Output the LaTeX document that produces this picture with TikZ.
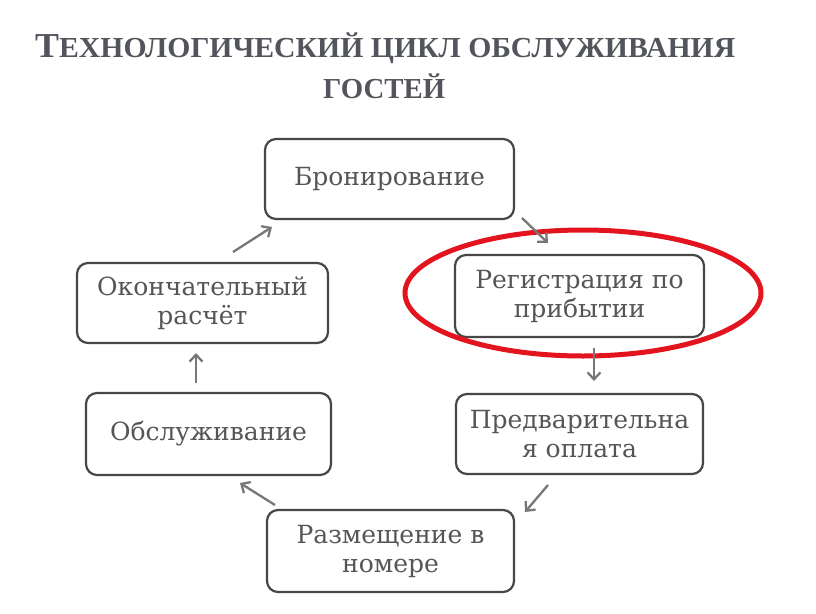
\documentclass[tikz,border=0pt]{standalone}
\usepackage{fontspec}
\usepackage{graphicx}
\setmainfont{DejaVu Serif}
\newfontfamily\titlefont{Liberation Serif}
\usetikzlibrary{arrows.meta}
\definecolor{txtgray}{HTML}{555555}
\definecolor{boxgray}{HTML}{474747}
\definecolor{arrgray}{HTML}{777777}
\definecolor{titlegray}{HTML}{52555C}
\definecolor{markred}{HTML}{E3141E}
\tikzset{
  stepbox/.style={draw=boxgray, line width=2.2pt, rounded corners=11pt,
    text=txtgray, align=center, inner sep=0pt,
    font=\fontsize{25}{29}\selectfont},
  arr/.style={draw=arrgray, line width=2.3pt, -{Straight Barb[length=7pt,width=13pt]}},
  titletxt/.style={text=titlegray, inner sep=0pt, anchor=base west, font=\titlefont\bfseries}
}
\newcommand\bigT[1]{{\fontsize{35}{35}\selectfont #1}}
\newcommand\smT[1]{{\fontsize{29}{29}\selectfont #1}}
\begin{document}
\begin{tikzpicture}[x=1pt,y=-1pt]
\useasboundingbox (0,0) rectangle (816,613);
\fill[white] (0,0) rectangle (816,613);
% title
\node[titletxt] (t1) at (35,57) {\resizebox{700pt}{\height}{\bigT{Т}\smT{ЕХНОЛОГИЧЕСКИЙ ЦИКЛ ОБСЛУЖИВАНИЯ}}};
\node[titletxt] (t2) at (323,98) {\resizebox{122pt}{\height}{\smT{ГОСТЕЙ}}};
% boxes
\node[stepbox, minimum width=249pt, minimum height=80pt] (bron) at (389.5,179) {Бронирование};
\node[stepbox, minimum width=249pt, minimum height=82pt] (reg) at (579.5,296) {Регистрация по\\прибытии};
\node[stepbox, minimum width=247pt, minimum height=80pt] (pred) at (579.5,434) {Предварительна\\я оплата};
\node[stepbox, minimum width=247pt, minimum height=82pt] (razm) at (390.5,551) {Размещение в\\номере};
\node[stepbox, minimum width=245pt, minimum height=82pt] (obs) at (208.5,434) {Обслуживание};
\node[stepbox, minimum width=251pt, minimum height=80pt] (okon) at (202.5,303) {Окончательный\\расчёт};
% red mark
\draw[markred, line width=5pt] (583,293) ellipse [x radius=178, y radius=63];
% arrow end points
\coordinate (a1s) at (522,218); \coordinate (a1e) at (548,243);
\coordinate (a2s) at (594,348); \coordinate (a2e) at (594,381);
\coordinate (a3s) at (548,485); \coordinate (a3e) at (525,512);
\coordinate (a4s) at (275,505); \coordinate (a4e) at (240,483);
\coordinate (a5s) at (196,383); \coordinate (a5e) at (196,353);
\coordinate (a6s) at (233,252); \coordinate (a6e) at (272,227);
\draw[arr] (a1s) -- (a1e);
\draw[arr] (a2s) -- (a2e);
\draw[arr] (a3s) -- (a3e);
\draw[arr] (a4s) -- (a4e);
\draw[arr] (a5s) -- (a5e);
\draw[arr] (a6s) -- (a6e);
\end{tikzpicture}
\end{document}
